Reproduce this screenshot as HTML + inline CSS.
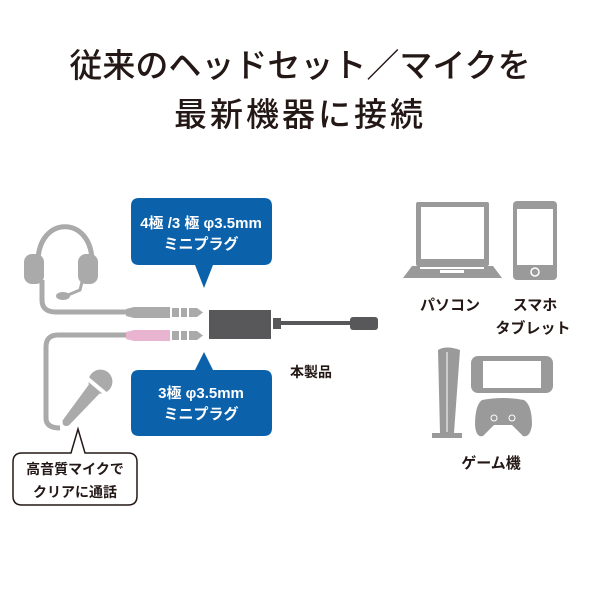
<!DOCTYPE html>
<html><head><meta charset="utf-8"><style>
html,body{margin:0;padding:0;background:#fff}
svg{display:block}
text{font-family:"Liberation Sans","Noto Sans CJK JP",sans-serif;font-weight:bold}
</style></head><body>
<svg width="600" height="600" viewBox="0 0 600 600" xmlns="http://www.w3.org/2000/svg">
<rect width="600" height="600" fill="#fff"/>
<text x="300" y="77" font-size="33" text-anchor="middle" fill="#231815" font-weight="normal" style="font-weight:500">従来のヘッドセット／マイクを</text>
<text x="300" y="126" font-size="33" text-anchor="middle" fill="#231815" letter-spacing="3" style="font-weight:500">最新機器に接続</text>

<!-- headset -->
<g fill="none" stroke="#aaaaaa" stroke-width="5">
<path d="M38 262 C38 215 92 215 92 262"/>
<path d="M42 280 L42 300 Q42 312 56 312 L128 312"/>
<path d="M128 335 L58 335 Q46 335 46 347 L46 418 Q46 428 60 428"/>
<path d="M82 282 L80 290 L68 295" stroke-width="3"/>
</g>
<rect x="24" y="254" width="20" height="30" rx="8" fill="#aaa"/>
<rect x="78" y="254" width="20" height="30" rx="8" fill="#aaa"/>
<ellipse cx="63" cy="296" rx="7" ry="4" fill="#aaa"/>
<!-- plugs -->
<path d="M126 309 L134 307 L170 307 L170 318 L134 318 L126 316 Z" fill="#aaa"/>
<rect x="172" y="308" width="7" height="9" fill="#aaa"/><rect x="181" y="308" width="6" height="9" fill="#aaa"/><path d="M189 308 L197 308 L203 312.5 L197 317 L189 317Z" fill="#aaa"/>
<path d="M126 332 L134 330 L170 330 L170 341 L134 341 L126 339 Z" fill="#e8b4cf"/>
<rect x="172" y="331" width="7" height="9" fill="#aaa"/><rect x="181" y="331" width="6" height="9" fill="#aaa"/><path d="M189 331 L197 331 L203 335.5 L197 340 L189 340Z" fill="#aaa"/>
<!-- adapter -->
<rect x="209" y="310" width="62" height="29" fill="#58585a"/>
<rect x="273" y="318" width="8" height="11" fill="#58585a"/>
<rect x="281" y="321" width="70" height="4" fill="#58585a"/>
<rect x="350" y="317" width="28" height="13" rx="3" fill="#58585a"/>
<text x="290" y="377" font-size="14" fill="#231815">本製品</text>

<!-- mic -->
<g transform="rotate(40 85 400)">
<path d="M78 385 L92 385 L89 430 Q85 436 81 430 Z" fill="#aaa"/>
<circle cx="85" cy="376" r="12" fill="#aaa"/>
<rect x="72" y="380" width="26" height="4" fill="#fff"/>
</g>

<!-- blue boxes -->
<path d="M139 198 H264 Q272 198 272 206 V257 Q272 265 264 265 H213 L204 288 L195 265 H139 Q131 265 131 257 V206 Q131 198 139 198Z" fill="#0b62ab"/>
<text x="201" y="228" font-size="15" fill="#fff" text-anchor="middle">4極 /3 極 φ3.5mm</text>
<text x="201" y="249" font-size="15" fill="#fff" text-anchor="middle">ミニプラグ</text>
<path d="M139 370 H195 L204 352 L213 370 H264 Q272 370 272 378 V428 Q272 436 264 436 H139 Q131 436 131 428 V378 Q131 370 139 370Z" fill="#0b62ab"/>
<text x="201" y="398" font-size="15" fill="#fff" text-anchor="middle">3極 φ3.5mm</text>
<text x="201" y="419" font-size="15" fill="#fff" text-anchor="middle">ミニプラグ</text>

<!-- speech bubble -->
<path d="M22 453 H71 L78 429 L85 453 H128 Q137 453 137 462 V496 Q137 505 128 505 H22 Q13 505 13 496 V462 Q13 453 22 453Z" fill="#fff" stroke="#231815" stroke-width="1.5"/>
<text x="75" y="474" font-size="14" fill="#231815" text-anchor="middle">高音質マイクで</text>
<text x="75" y="497" font-size="14" fill="#231815" text-anchor="middle">クリアに通話</text>

<!-- laptop -->
<rect x="416" y="202" width="73" height="64" rx="2" fill="#9a9a9a"/>
<rect x="421" y="207" width="63" height="52" fill="#fff"/>
<path d="M412 266 H493 L502 278 H403 Z" fill="#9a9a9a"/>
<rect x="420" y="267" width="64" height="2" fill="#fff"/>
<rect x="440" y="270" width="24" height="3" fill="#fff"/>
<!-- phone -->
<rect x="513" y="201" width="44" height="79" rx="4" fill="#9a9a9a"/>
<rect x="517" y="209" width="36" height="56" fill="#fff"/>
<circle cx="535" cy="272" r="4" fill="none" stroke="#fff" stroke-width="1.5"/>
<text x="450" y="310" font-size="15" fill="#231815" text-anchor="middle">パソコン</text>
<text x="535" y="310" font-size="15" fill="#231815" text-anchor="middle">スマホ</text>
<text x="533" y="333" font-size="15" fill="#231815" text-anchor="middle">タブレット</text>
<!-- console tower -->
<path d="M438 350 Q446 345 460 350 L454 433 L440 433 Z" fill="#9a9a9a"/>
<path d="M432 433 H462 V438 H432Z" fill="#9a9a9a"/>
<line x1="447" y1="352" x2="447" y2="432" stroke="#fff" stroke-width="1"/>
<!-- switch -->
<rect x="471" y="356" width="82" height="37" rx="7" fill="#9a9a9a"/>
<rect x="483" y="361" width="58" height="27" fill="#fff"/>
<!-- controller -->
<path d="M482 400 Q503 396 524 400 Q532 405 532 425 Q530 438 523 436 L512 425 H494 L483 436 Q476 438 475 425 Q475 405 482 400Z" fill="#9a9a9a"/>
<circle cx="494" cy="418" r="3" fill="none" stroke="#fff"/><circle cx="512" cy="418" r="3" fill="none" stroke="#fff"/>
<text x="491" y="468" font-size="15" fill="#231815" text-anchor="middle">ゲーム機</text>
</svg>
</body></html>
